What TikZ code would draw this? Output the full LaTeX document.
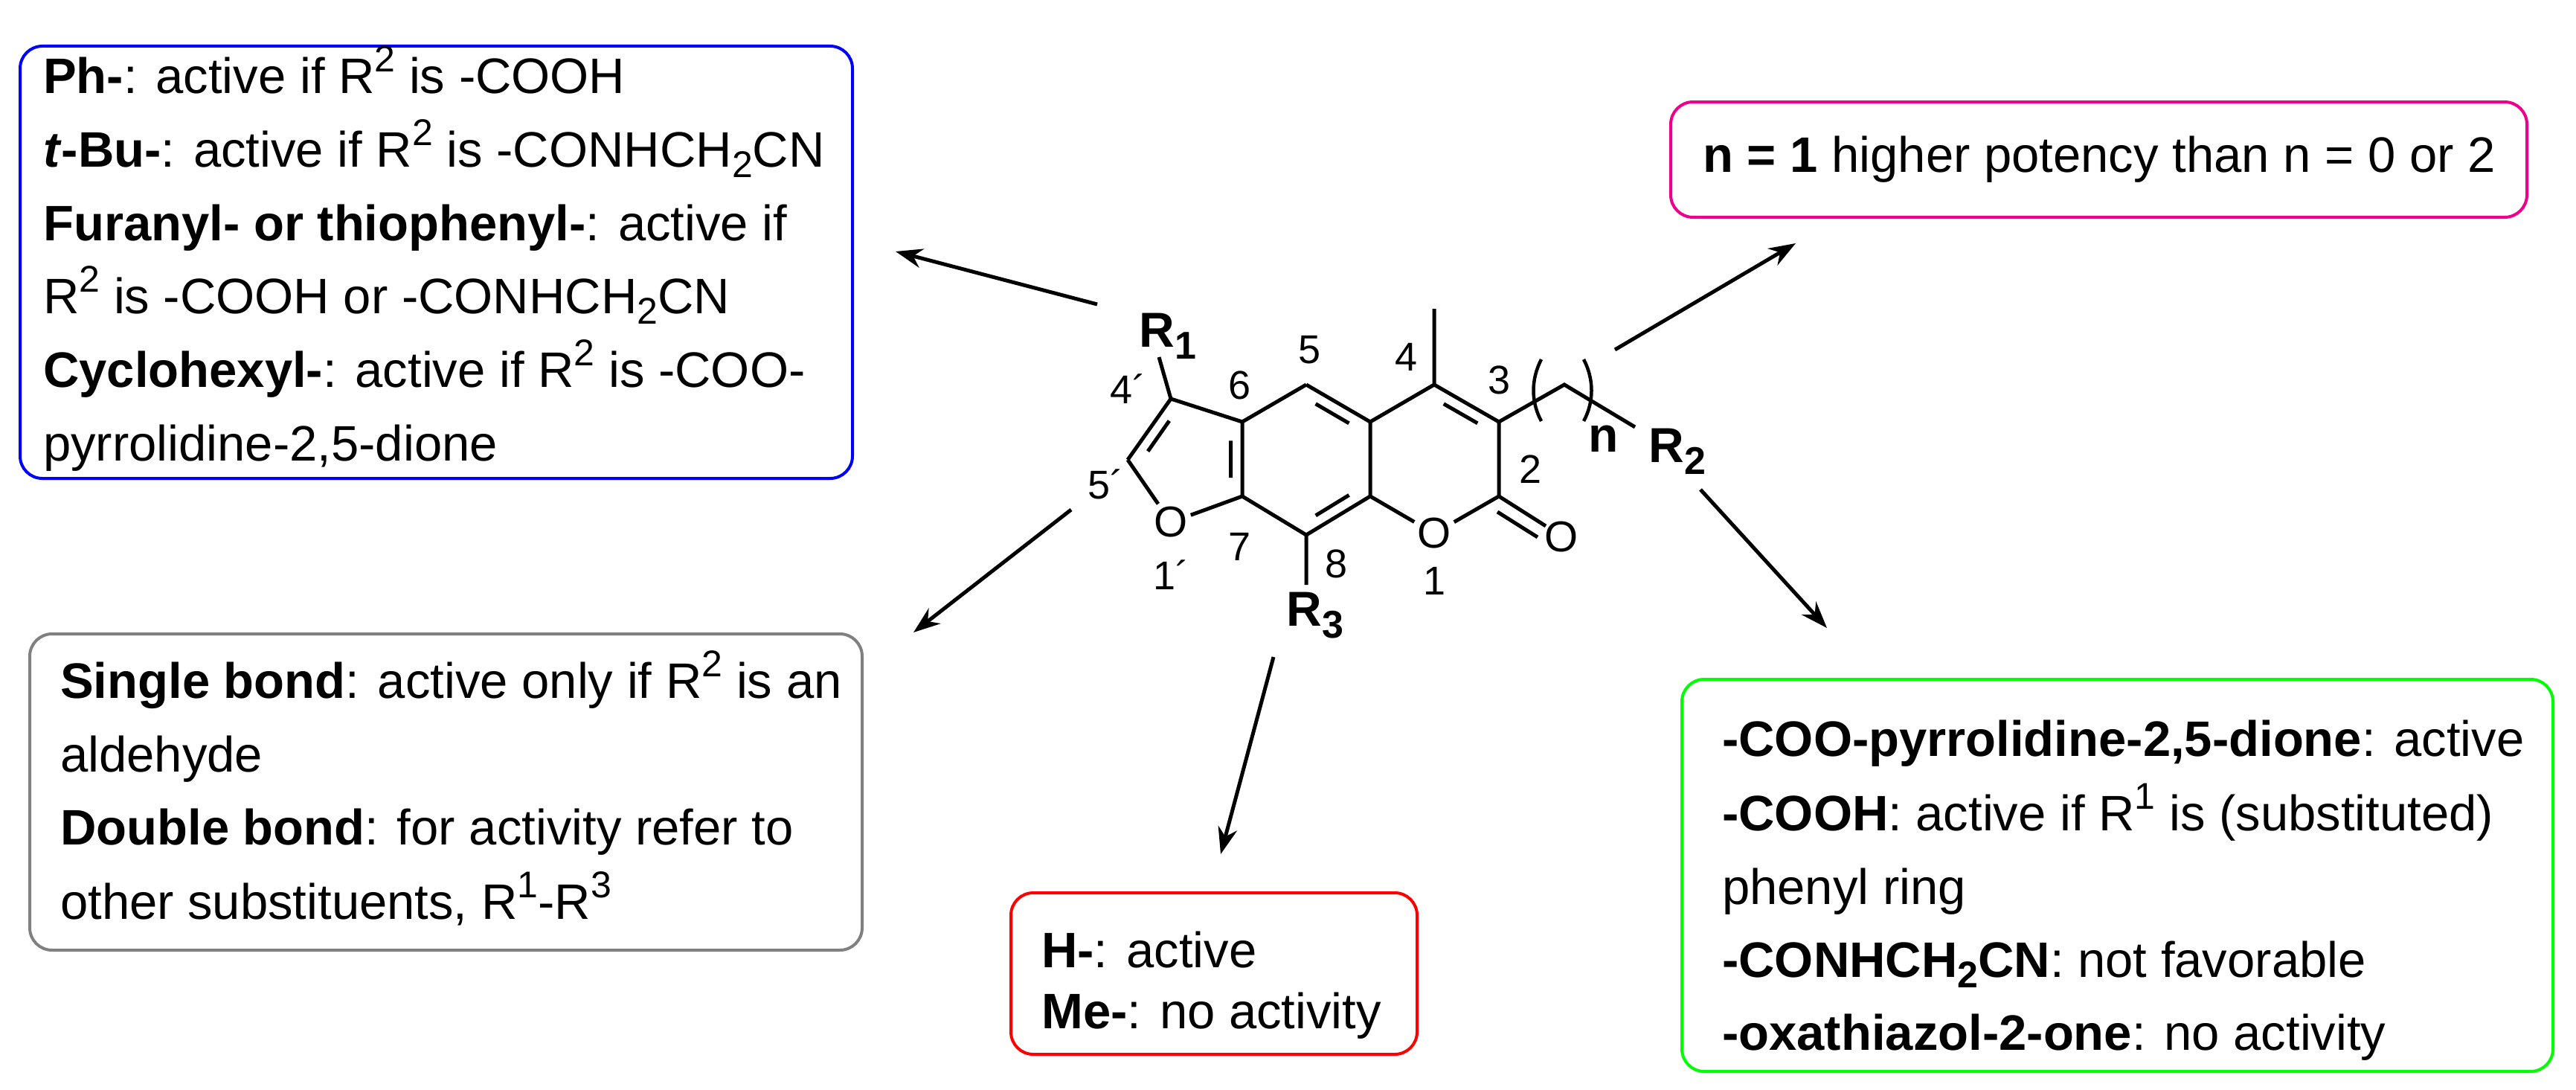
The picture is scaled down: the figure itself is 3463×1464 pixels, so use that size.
\documentclass[tikz,border=0pt]{standalone}
\usepackage{fontspec}
\setmainfont{Liberation Sans}
\usetikzlibrary{calc,arrows.meta}
\newcommand{\sups}[1]{\raisebox{0.42em}{\fontsize{50}{50}\selectfont #1}}
\newcommand{\subs}[1]{\raisebox{-0.22em}{\fontsize{50}{50}\selectfont #1}}
\begin{document}
\begin{tikzpicture}[x=1pt,y=-1pt,
  bond/.style={line width=5pt},
  arr/.style={line width=5pt,-{Stealth[length=36pt,width=26pt]}},
  infobox/.style={line width=4pt,rounded corners=30pt},
  txt/.style={anchor=base west,inner sep=0pt,font=\fontsize{67}{67}\selectfont},
  num/.style={inner sep=0pt,font=\fontsize{54}{54}\selectfont},
  atom/.style={inner sep=4pt,font=\fontsize{58}{58}\selectfont},
  rlab/.style={inner sep=0pt,font=\fontsize{66}{66}\selectfont\bfseries}]
\useasboundingbox (0,0) rectangle (3463,1464);
% boxes
\draw[infobox,blue] (27,62) rectangle (1146,643);
\draw[infobox,magenta] (2246,137) rectangle (3397,292);
\draw[infobox,gray] (40,852) rectangle (1159,1277);
\draw[infobox,red] (1359,1200) rectangle (1905,1417);
\draw[infobox,green] (2261,913) rectangle (3432,1440);
% blue texts
\node[txt] (b1) at (58,125) {\textbf{Ph-}: active if R\sups{2} is -COOH};
\node[txt] (b2) at (58,224) {\textbf{\textit{t}-Bu-}: active if R\sups{2} is -CONHCH\subs{2}CN};
\node[txt] (b3) at (58,323) {\textbf{Furanyl- or thiophenyl-}: active if};
\node[txt] (b4) at (58,421) {R\sups{2} is -COOH or -CONHCH\subs{2}CN};
\node[txt] (b5) at (58,520) {\textbf{Cyclohexyl-}: active if R\sups{2} is -COO-};
\node[txt] (b6) at (58,619) {pyrrolidine-2,5-dione};
% magenta
\node[txt,anchor=center] (tm) at (2822,214) {\textbf{n = 1} higher potency than n = 0 or 2};
% grey
\node[txt] (g1) at (81,938) {\textbf{Single bond}: active only if R\sups{2} is an};
\node[txt] (g2) at (81,1037) {aldehyde};
\node[txt] (g3) at (81,1135) {\textbf{Double bond}: for activity refer to};
\node[txt] (g4) at (81,1235) {other substituents, R\sups{1}-R\sups{3}};
% red
\node[txt] (r1) at (1400,1300) {\textbf{H-}: active};
\node[txt] (r2) at (1400,1382) {\textbf{Me-}: no activity};
% green
\node[txt] (e1) at (2315,1016) {\textbf{-COO-pyrrolidine-2,5-dione}: active};
\node[txt] (e2) at (2315,1116) {\textbf{-COOH}: active if R\sups{1} is (substituted)};
\node[txt] (e3) at (2315,1215) {phenyl ring};
\node[txt] (e4) at (2315,1313) {\textbf{-CONHCH\subs{2}CN}: not favorable};
\node[txt] (e5) at (2315,1411) {\textbf{-oxathiazol-2-one}: no activity};
% atoms
\coordinate (C4p) at (1574,536);
\coordinate (C5p) at (1516,618);
\node[atom] (O1p) at (1574,702) {O};
\coordinate (C7a) at (1670,667);
\coordinate (C6) at (1670,567);
\coordinate (C5) at (1756,517);
\coordinate (C4a) at (1842,567);
\coordinate (C8a) at (1842,667);
\coordinate (C8) at (1756,719);
\node[atom] (O1) at (1928,717) {O};
\coordinate (C2) at (2015,667);
\coordinate (C3) at (2015,567);
\coordinate (C4) at (1928,517);
\coordinate (Me) at (1928,415);
\node[atom] (Ox) at (2099,722) {O};
\coordinate (CO1) at (2078,707);
\coordinate (CO2a) at (2013,688);
\coordinate (CO2b) at (2067,722);
\coordinate (CH2) at (2103,517);
\coordinate (R2e) at (2198,574);
\coordinate (R1e) at (1558,480);
\coordinate (R3e) at (1756,786);
\coordinate (cF) at (1601,618);
\coordinate (cB) at (1756,617);
\coordinate (cP) at (1928,617);
% single bonds
\draw[bond] (C4p)--(C6)--(C5) (C4a)--(C4)--(Me) (C4a)--(C8a)
  (C7a)--(C8) (C8a)--(O1)--(C2)--(C3)--(CH2)--(R2e) (C4p)--(R1e) (C8)--(R3e)
  (C5p)--(O1p)--(C7a);
% double bonds
\draw[bond] (C4p)--(C5p) (C6)--(C7a) (C5)--(C4a) (C8)--(C8a) (C3)--(C4);
\foreach \a/\b/\c in {C4p/C5p/cF, C6/C7a/cF, C5/C4a/cB, C8/C8a/cB, C3/C4/cP}{
  \draw[bond] ($($(\a)!0.18!(\b)$)!17pt!(\c)$) -- ($($(\b)!0.18!(\a)$)!17pt!(\c)$);
}
\draw[bond] (C2)--(CO1) (CO2a)--(CO2b);
% parentheses
\draw[line width=4.5pt] (2072,483) .. controls (2058,510) and (2058,540) .. (2072,566);
\draw[line width=4.5pt] (2129,483) .. controls (2143,510) and (2143,540) .. (2129,566);
% labels
\node[rlab] (R1) at (1570,452) {R\raisebox{-0.25em}{\fontsize{52}{52}\selectfont 1}};
\node[rlab] (R2) at (2255,607) {R\raisebox{-0.25em}{\fontsize{52}{52}\selectfont 2}};
\node[rlab] (R3) at (1768,827) {R\raisebox{-0.25em}{\fontsize{52}{52}\selectfont 3}};
\node[rlab] (nn) at (2156,590) {n};
\node[num] (l4p) at (1516,523) {4´};
\node[num] (l6) at (1666,518) {6};
\node[num] (l5) at (1760,470) {5};
\node[num] (l4) at (1890,480) {4};
\node[num] (l3) at (2015,511) {3};
\node[num] (l2) at (2057,631) {2};
\node[num] (l5p) at (1486,651) {5´};
\node[num] (l7) at (1666,735) {7};
\node[num] (l1p) at (1574,773) {1´};
\node[num] (l8) at (1796,758) {8};
\node[num] (l1) at (1928,781) {1};
% arrows
\coordinate (a1) at (1475,409); \coordinate (a1t) at (1204,338);
\coordinate (a2) at (1440,685); \coordinate (a2t) at (1228,850);
\coordinate (a3) at (1712,883); \coordinate (a3t) at (1641,1148);
\coordinate (a4) at (2171,470); \coordinate (a4t) at (2414,327);
\coordinate (a5) at (2286,658); \coordinate (a5t) at (2456,844);
\draw[arr] (a1)--(a1t);
\draw[arr] (a2)--(a2t);
\draw[arr] (a3)--(a3t);
\draw[arr] (a4)--(a4t);
\draw[arr] (a5)--(a5t);
\end{tikzpicture}
\end{document}
